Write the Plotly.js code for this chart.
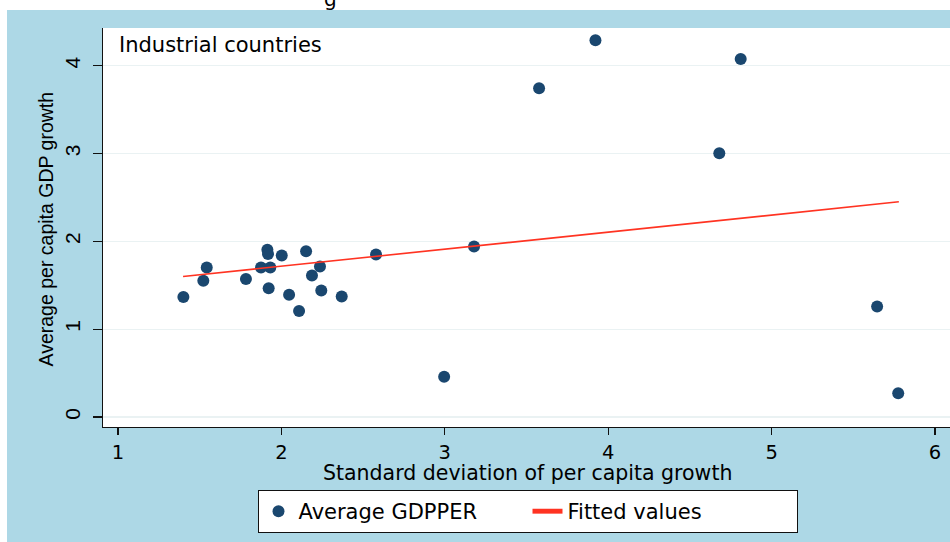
<!DOCTYPE html>
<html>
<head>
<meta charset="utf-8">
<script src="https://cdn.plot.ly/plotly-3.0.1.min.js"></script>
<style>html,body{margin:0;padding:0;background:#fff;}#chart{width:950px;height:542px;}</style>
</head>
<body>
<div id="chart"></div>
<script>
// Scatter data: standard deviation of per capita growth vs average per capita GDP growth
const sdGrowth = [1.400, 1.522, 1.543, 1.783, 1.875, 1.914, 1.918, 1.932, 1.922, 2.002,
                  2.047, 2.108, 2.151, 2.187, 2.236, 2.244, 2.369, 2.579, 2.996, 3.179,
                  3.577, 3.922, 4.680, 4.811, 5.646, 5.775];
const avgGdpper = [1.365, 1.551, 1.703, 1.570, 1.703, 1.905, 1.856, 1.703, 1.467, 1.840,
                   1.391, 1.208, 1.886, 1.611, 1.714, 1.440, 1.371, 1.851, 0.457, 1.940,
                   3.743, 4.289, 3.003, 4.076, 1.257, 0.270];
// Fitted line end points
const fitX = [1.398, 5.779];
const fitY = [1.600, 2.450];

const xTicks = [1, 2, 3, 4, 5, 6];
const yTicks = [0, 1, 2, 3, 4];

const FONT = 'DejaVu Sans, Liberation Sans, Arial, sans-serif';
const VFONT = 'Liberation Sans, Arial, Helvetica, sans-serif';
const W = 950, H = 542;
const mL = 103, mR = 0, mT = 28, mB = 115;
const pw = W - mL - mR, ph = H - mT - mB;
const px = v => (v - mL) / pw;
const py = v => (H - mB - v) / ph;

const traces = [
  {
    type: 'scatter', mode: 'markers', name: 'Average GDPPER',
    x: sdGrowth, y: avgGdpper,
    marker: {color: '#1a476f', size: 12, line: {width: 0}},
    cliponaxis: false
  },
  {
    type: 'scatter', mode: 'lines', name: 'Fitted values',
    x: fitX, y: fitY,
    line: {color: '#ff3322', width: 1.6}
  }
];

const layout = {
  width: W, height: H,
  margin: {l: mL, r: mR, t: mT, b: mB, pad: 0},
  paper_bgcolor: '#add8e6',
  plot_bgcolor: '#ffffff',
  font: {family: FONT, size: 20, color: '#000'},
  showlegend: true,
  xaxis: {
    range: [0.908, 6.092],
    tickvals: xTicks, ticktext: xTicks.map(String),
    showgrid: false, zeroline: false,
    showline: true, linecolor: '#111', linewidth: 1.2,
    ticks: 'outside', ticklen: 7, tickcolor: '#111', tickwidth: 1.2,
    tickfont: {family: FONT, size: 19.5, color: '#000'},
    automargin: false, fixedrange: true
  },
  yaxis: {
    range: [-0.114, 4.429],
    tickvals: yTicks, ticktext: yTicks.map(String),
    tickangle: -90,
    showgrid: true, gridcolor: '#eaf2f3', gridwidth: 1.2,
    zeroline: false,
    showline: true, linecolor: '#111', linewidth: 1.2,
    ticks: 'outside', ticklen: 9, tickcolor: '#111', tickwidth: 1.2,
    ticklabelstandoff: 4,
    tickfont: {family: VFONT, size: 21, color: '#000'},
    automargin: false, fixedrange: true
  },
  legend: {
    orientation: 'h', x: px(527.5), xanchor: 'center', y: py(490), yanchor: 'top',
    bgcolor: '#ffffff', bordercolor: '#111', borderwidth: 1,
    font: {family: FONT, size: 21, color: '#000'},
    entrywidth: 224, itemsizing: 'constant'
  },
  shapes: [
    {type: 'rect', xref: 'paper', yref: 'paper', layer: 'below',
     x0: px(-5), x1: px(7), y0: py(560), y1: py(-5),
     fillcolor: '#ffffff', line: {width: 0}},
    {type: 'rect', xref: 'paper', yref: 'paper', layer: 'below',
     x0: px(-5), x1: px(960), y0: py(10), y1: py(-5),
     fillcolor: '#ffffff', line: {width: 0}}
  ],
  annotations: [
    {text: 'Industrial countries', xref: 'paper', yref: 'paper',
     x: px(117), y: py(31), xanchor: 'left', yanchor: 'top', showarrow: false,
     font: {family: FONT, size: 21, color: '#000'}},
    {text: 'Standard deviation of per capita growth', xref: 'paper', yref: 'paper',
     x: px(527), y: py(473), xanchor: 'center', yanchor: 'middle', showarrow: false,
     font: {family: FONT, size: 20.5, color: '#000'}},
    {text: 'Average per capita GDP growth', xref: 'paper', yref: 'paper',
     x: px(45.5), y: py(229), xanchor: 'center', yanchor: 'middle', showarrow: false,
     textangle: -90,
     font: {family: VFONT, size: 19.5, color: '#000'}},
    {text: 'g', xref: 'paper', yref: 'paper',
     x: px(330), y: py(13), xanchor: 'center', yanchor: 'bottom', showarrow: false,
     font: {family: FONT, size: 20, color: '#000'}}
  ]
};

Plotly.newPlot('chart', traces, layout, {displayModeBar: false, staticPlot: true});
</script>
</body>
</html>
